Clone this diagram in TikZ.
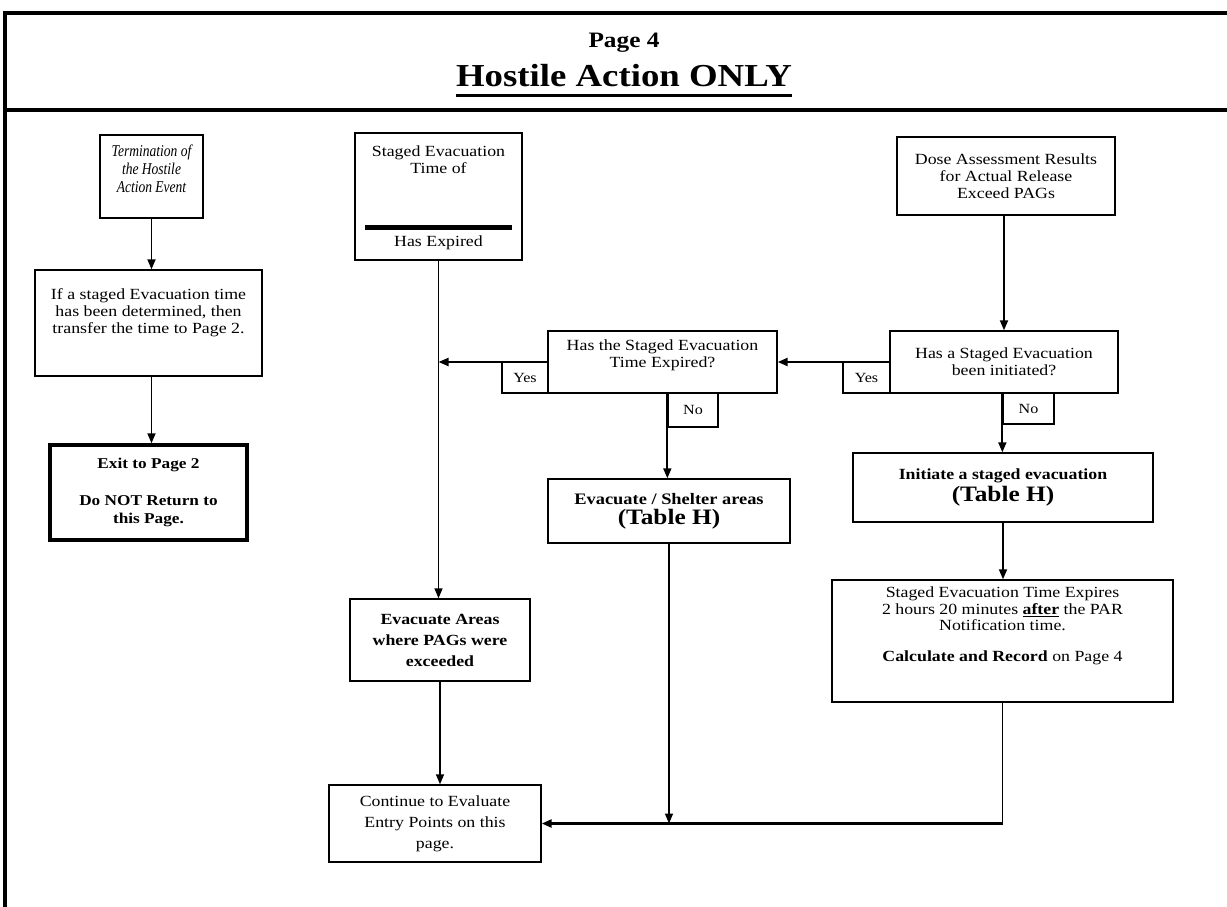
\documentclass[tikz,border=0pt]{standalone}
\usepackage{fontspec}
\setmainfont{Liberation Serif}[FakeStretch=1.15]
\newfontfamily\narrowserif{Liberation Serif}[FakeStretch=0.82]
\usetikzlibrary{arrows.meta,calc}

\newcommand\bodysize{\fontsize{15.5}{17}\selectfont}
\newcommand\tablesize{\fontsize{22}{24}\selectfont}

\begin{document}
\begin{tikzpicture}[x=1pt,y=-1pt,
  box/.style={draw, line width=1.4pt, rectangle, inner sep=0pt, align=center},
  txt/.style={inner sep=0pt, align=center},
  tag/.style={draw, line width=1.3pt, rectangle, inner sep=0pt,
              font=\fontsize{14}{16}\selectfont},
  flow/.style={line width=1.8pt, -{Triangle[length=10pt,width=8pt]}},
]
\useasboundingbox (0,0) rectangle (1227,907);
\fill[white] (0,0) rectangle (1227,907);

% page frame and header rule
\draw[line width=4pt] (3,13) -- (1227,13);
\draw[line width=4.5pt] (5,11) -- (5,907);
\draw[line width=4.5pt] (3,110) -- (1227,110);

% header
\node[txt, font=\bfseries\fontsize{22}{24}\selectfont, anchor=base] (pagenum) at (624,48) {Page 4};
\node[txt, font=\bfseries\fontsize{32}{36}\selectfont, anchor=base] (title) at (624,86) {Hostile Action ONLY};
\draw[line width=3pt] ($(title.base west)+(0,10)$) -- ($(title.base east)+(0,10)$);

% left column
\node[box, minimum width=103pt, minimum height=83pt] (term) at (151.5,176.5) {};
\node[txt, font=\narrowserif\itshape\fontsize{16.5}{18}\selectfont] (termtxt) at (151.5,169)
  {Termination of\\the Hostile\\Action Event};
\node[box, minimum width=227pt, minimum height=106pt] (ifbox) at (148.5,323) {};
\node[txt, font=\bodysize, anchor=north] (iftext) at (148.5,288)
  {If a staged Evacuation time\\has been determined, then\\transfer the time to Page 2.};
\node[box, line width=3.5pt, minimum width=197pt, minimum height=95pt,
      font=\bfseries\fontsize{15}{18}\selectfont] (exit) at (148.5,492.5)
  {Exit to Page 2\\[19pt]Do NOT Return to\\this Page.};

% middle column
\node[box, minimum width=167pt, minimum height=127pt] (staged) at (438.5,196.5) {};
\node[txt, font=\bodysize, anchor=north] (stagedtxt) at (438.5,146)
  {Staged Evacuation\\Time of};
\draw[line width=5pt] (365,227) -- (512,227);
\node[txt, font=\bodysize, anchor=base] (expired) at (438.5,246) {Has Expired};

\node[box, minimum width=229pt, minimum height=62pt] (dec1) at (662.5,362) {};
\node[txt, font=\bodysize] (dec1txt) at (662.5,355)
  {Has the Staged Evacuation\\Time Expired?};
\node[tag, minimum width=46pt, minimum height=31pt] (yes1) at (525,377.5) {Yes};
\node[tag, minimum width=50pt, minimum height=34pt] (no1) at (693,410) {No};

\node[box, minimum width=242pt, minimum height=64pt, font=\bfseries\fontsize{16}{18}\selectfont]
  (evsh) at (669,511) {Evacuate / Shelter areas\\[2pt]{\tablesize (Table H)}};

\node[box, minimum width=180pt, minimum height=82pt, font=\bfseries\fontsize{15.5}{21}\selectfont]
  (evar) at (440,640) {Evacuate Areas\\where PAGs were\\exceeded};
\node[box, minimum width=212pt, minimum height=77pt, font=\fontsize{15.5}{21}\selectfont]
  (cont) at (435,823.5) {Continue to Evaluate\\Entry Points on this\\page.};

% right column
\node[box, minimum width=218pt, minimum height=78pt, font=\bodysize]
  (dose) at (1006,176) {Dose Assessment Results\\for Actual Release\\Exceed PAGs};
\node[box, minimum width=228pt, minimum height=62pt, font=\bodysize]
  (dec2) at (1004,362) {Has a Staged Evacuation\\been initiated?};
\node[tag, minimum width=47pt, minimum height=31pt] (yes2) at (866.5,377.5) {Yes};
\node[tag, minimum width=51pt, minimum height=31pt] (no2) at (1028.5,408.5) {No};

\node[box, minimum width=300pt, minimum height=69pt, font=\bfseries\fontsize{15.5}{18}\selectfont]
  (init) at (1003,487.5) {Initiate a staged evacuation\\[2pt]{\tablesize (Table H)}};

\node[box, minimum width=341pt, minimum height=122pt] (stexp) at (1002.5,641) {};
\node[txt, font=\fontsize{15.5}{16.5}\selectfont, anchor=north] (stexptxt) at (1002.5,587)
  {Staged Evacuation Time Expires\\
   2 hours 20 minutes \textbf{\underline{after}} the PAR\\
   Notification time.\\[14pt]
   \textbf{Calculate and Record} on Page 4};

% connectors
\draw[flow] (term.south) -- (term.south |- ifbox.north);
\draw[flow] (term.south |- ifbox.south) -- (term.south |- exit.north);

\draw[flow, line width=1.5pt] (staged.south) -- (staged.south |- evar.north);
\draw[flow, line width=2.2pt] (dec1.west) -- (dec1.west -| staged.south);
\draw[flow] (no1.north west) -- (no1.north west |- evsh.north);

\draw[flow] (dose.south -| dec2.north) -- (dec2.north);
\draw[flow, line width=2.2pt] (dec2.west) -- (dec1.east);
\draw[flow] (no2.north west) -- (no2.north west |- init.north);
\draw[flow] (init.south) -- (init.south |- stexp.north);

\draw[flow, line width=1.5pt] (evar.south) -- (evar.south |- cont.north);
\draw[flow, line width=1.5pt] (evsh.south) -- (evsh.south |- cont.east);
\draw[line width=1.5pt] (stexp.south) -- (stexp.south |- cont.east);
\draw[flow, line width=2.4pt] (stexp.south |- cont.east) -- (cont.east);
\end{tikzpicture}
\end{document}
